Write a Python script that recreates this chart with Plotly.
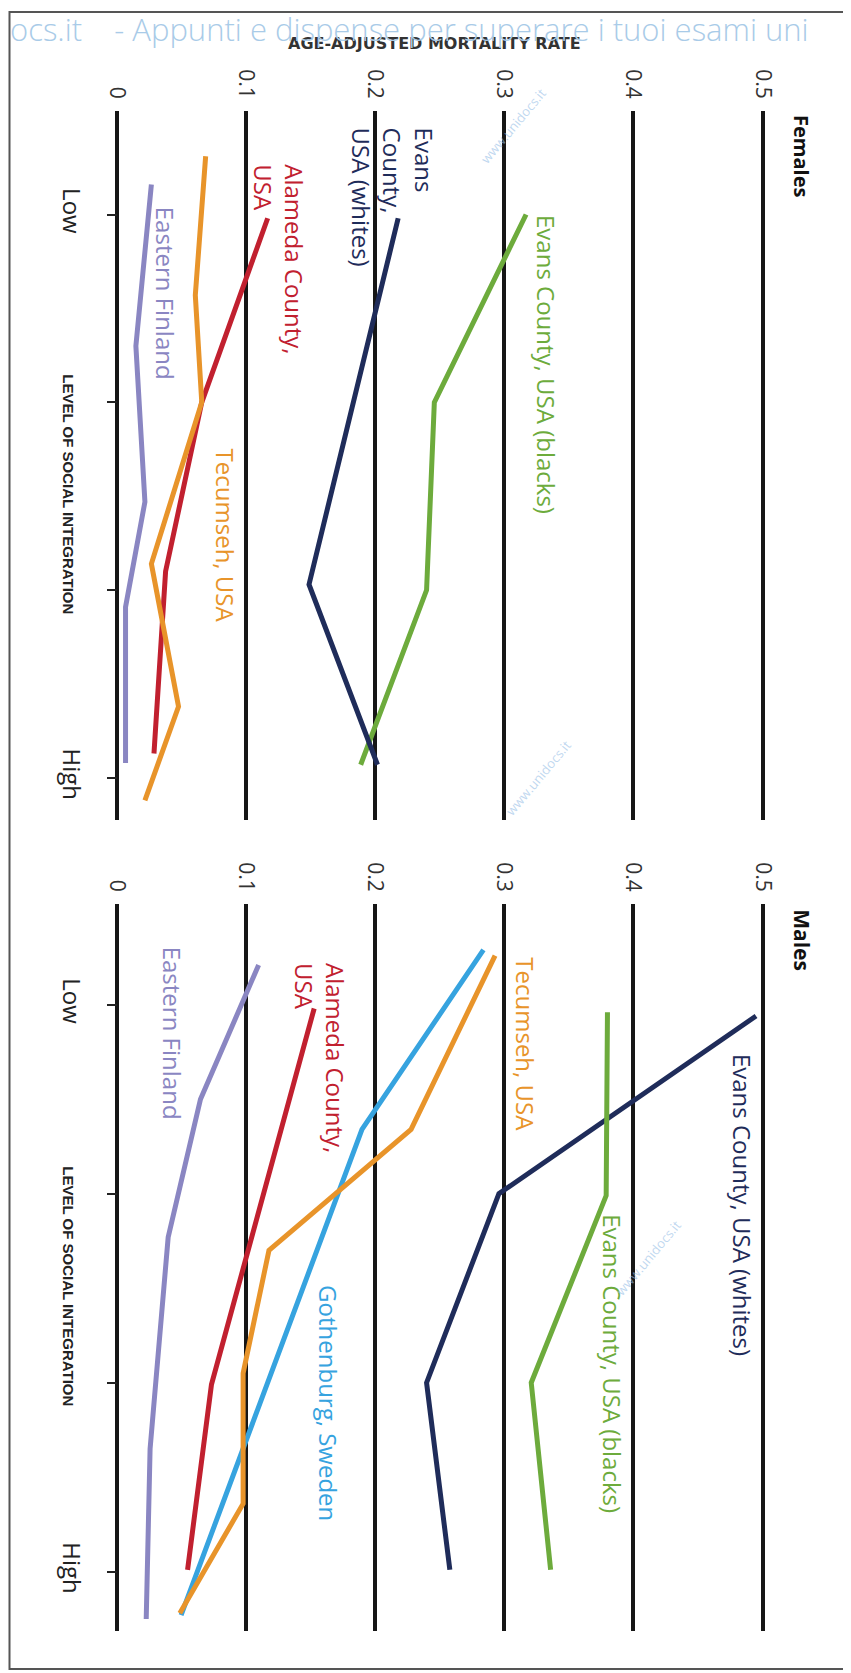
import plotly.graph_objects as go

W, H = 851, 1673

# ---------------- data ----------------
rate_ticks = [0, 0.1, 0.2, 0.3, 0.4, 0.5]
rate_labels = ["0", "0.1", "0.2", "0.3", "0.4", "0.5"]
level_ticks = [1, 2, 3, 4]
level_labels = ["Low", "", "", "High"]

# Females (level of social integration -> age-adjusted mortality rate)
f_evans_blacks_lvl = [1.0, 2.0, 3.0, 3.93]
f_evans_blacks_val = [0.317, 0.246, 0.240, 0.189]
f_evans_whites_lvl = [1.02, 2.0, 2.97, 3.93]
f_evans_whites_val = [0.218, 0.183, 0.149, 0.202]
f_alameda_lvl = [1.02, 2.0, 2.9, 3.87]
f_alameda_val = [0.117, 0.066, 0.038, 0.029]
f_tecumseh_lvl = [0.69, 1.43, 2.0, 2.86, 3.62, 4.12]
f_tecumseh_val = [0.069, 0.061, 0.066, 0.027, 0.048, 0.022]
f_finland_lvl = [0.84, 1.70, 2.53, 3.09, 3.92]
f_finland_val = [0.027, 0.015, 0.022, 0.007, 0.007]

# Males
m_evans_whites_lvl = [1.06, 2.0, 3.0, 3.99]
m_evans_whites_val = [0.495, 0.296, 0.240, 0.258]
m_evans_blacks_lvl = [1.04, 2.01, 3.0, 3.99]
m_evans_blacks_val = [0.380, 0.379, 0.321, 0.336]
m_tecumseh_lvl = [0.74, 1.66, 2.30, 2.95, 3.64, 4.22]
m_tecumseh_val = [0.293, 0.228, 0.118, 0.098, 0.098, 0.049]
m_gothenburg_lvl = [0.71, 1.66, 3.0, 4.23]
m_gothenburg_val = [0.284, 0.190, 0.117, 0.050]
m_alameda_lvl = [1.02, 2.0, 3.01, 3.99]
m_alameda_val = [0.153, 0.114, 0.0735, 0.055]
m_finland_lvl = [0.79, 1.50, 2.23, 3.35, 4.25]
m_finland_val = [0.110, 0.065, 0.040, 0.026, 0.023]

C_GREEN = "#6dab3c"
C_NAVY = "#1f2c5a"
C_RED = "#c1202f"
C_ORANGE = "#e8942a"
C_PURPLE = "#8a86c2"
C_BLUE = "#36a3df"

LBL_FONT = "Open Sans"

fig = go.Figure()

def add(x, y, color, xa, ya):
    fig.add_trace(go.Scatter(x=x, y=y, mode="lines", xaxis=xa, yaxis=ya,
                             line=dict(color=color, width=5), showlegend=False,
                             hoverinfo="skip"))

add(f_evans_blacks_val, f_evans_blacks_lvl, C_GREEN, "x", "y")
add(f_evans_whites_val, f_evans_whites_lvl, C_NAVY, "x", "y")
add(f_alameda_val, f_alameda_lvl, C_RED, "x", "y")
add(f_tecumseh_val, f_tecumseh_lvl, C_ORANGE, "x", "y")
add(f_finland_val, f_finland_lvl, C_PURPLE, "x", "y")

add(m_evans_whites_val, m_evans_whites_lvl, C_NAVY, "x2", "y2")
add(m_evans_blacks_val, m_evans_blacks_lvl, C_GREEN, "x2", "y2")
add(m_gothenburg_val, m_gothenburg_lvl, C_BLUE, "x2", "y2")
add(m_tecumseh_val, m_tecumseh_lvl, C_ORANGE, "x2", "y2")
add(m_alameda_val, m_alameda_lvl, C_RED, "x2", "y2")
add(m_finland_val, m_finland_lvl, C_PURPLE, "x2", "y2")

x_range = [-108.5 / 1292, (W - 108.5) / 1292]
f_dom = [1 - 812 / H, 1 - 103 / H]
m_dom = [1 - 1623 / H, 1 - 896 / H]
f_range = [1 + (812 - 206.5) / 187.8, 1 + (103 - 206.5) / 187.8]
m_range = [1 + (1623 - 996.7) / 189, 1 + (896 - 996.7) / 189]
y_pos = 108.5 / W

xa_common = dict(domain=[0, 1], range=x_range, side="top", tickmode="array",
                 tickvals=rate_ticks, ticktext=rate_labels, tickangle=90,
                 showgrid=True, gridcolor="#161616", gridwidth=4,
                 zeroline=True, zerolinecolor="#161616", zerolinewidth=4,
                 showline=False, ticks="", ticklabelstandoff=8,
                 tickfont=dict(family=LBL_FONT, size=21, color="#333"))
ya_common = dict(anchor="free", position=y_pos, tickmode="array",
                 tickvals=level_ticks, ticktext=level_labels, tickangle=90,
                 ticks="outside", ticklen=10, tickwidth=2, tickcolor="#222",
                 showgrid=False, zeroline=False, showline=False,
                 ticklabelstandoff=15,
                 tickfont=dict(family=LBL_FONT, size=24, color="#222"))

fig.update_layout(
    width=W, height=H, margin=dict(l=0, r=0, t=0, b=0),
    paper_bgcolor="white", plot_bgcolor="rgba(0,0,0,0)",
    xaxis=dict(anchor="y", **xa_common),
    xaxis2=dict(anchor="y2", **xa_common),
    yaxis=dict(domain=f_dom, range=f_range, **ya_common),
    yaxis2=dict(domain=m_dom, range=m_range, **ya_common),
)

ann = []

def label(text, x, y, color, xa, ya, size=24, bold=False, align="left"):
    ann.append(dict(text=text, x=x, y=y, xref=xa, yref=ya, showarrow=False,
                    textangle=90, align=align, xanchor="center", yanchor="middle",
                    font=dict(family=LBL_FONT, size=size, color=color,
                              weight=700 if bold else 400)))

# Females labels
label("Females", 0.530, 0.69, "#111", "x", "y", size=20, bold=True)
label("Evans County, USA (blacks)", 0.333, 1.80, C_GREEN, "x", "y")
label("Evans<br>County,<br>USA (whites)", 0.214, 0.91, C_NAVY, "x", "y")
label("Alameda County,<br>USA", 0.126, 1.24, C_RED, "x", "y")
label("Eastern Finland", 0.038, 1.42, C_PURPLE, "x", "y")
label("Tecumseh, USA", 0.084, 2.71, C_ORANGE, "x", "y")

# Males labels
label("Males", 0.530, 0.66, "#111", "x2", "y2", size=21, bold=True)
label("Evans County, USA (whites)", 0.485, 2.06, C_NAVY, "x2", "y2")
label("Evans County, USA (blacks)", 0.384, 2.90, C_GREEN, "x2", "y2")
label("Tecumseh, USA", 0.317, 1.21, C_ORANGE, "x2", "y2")
label("Alameda County,<br>USA", 0.158, 1.28, C_RED, "x2", "y2")
label("Eastern Finland", 0.044, 1.15, C_PURPLE, "x2", "y2")
label("Gothenburg, Sweden", 0.164, 3.11, C_BLUE, "x2", "y2")

# level axis titles
for ya in ("y", "y2"):
    ann.append(dict(text="LEVEL OF SOCIAL INTEGRATION", x=61 / W, xref="paper",
                    xanchor="center", yanchor="middle",
                    y=2.49, yref=ya, showarrow=False, textangle=90,
                    font=dict(family="Liberation Sans", size=15, color="#222", weight=700)))

# top axis title
ann.append(dict(text="AGE-ADJUSTED MORTALITY RATE", x=426 / W, y=1 - 35 / H,
                xref="paper", yref="paper", showarrow=False, yanchor="middle",
                xanchor="center",
                font=dict(family="DejaVu Sans", size=16, color="#333", weight=700)))

# watermark
ann.append(dict(text="ocs.it\u00a0\u00a0\u00a0\u00a0- Appunti e dispense per superare i tuoi esami uni",
                x=0, y=1 - 21 / H, xref="paper", yref="paper", xanchor="left",
                yanchor="middle", showarrow=False,
                font=dict(family="Open Sans", size=31, color="#a9cbe8", weight=300)))
for (wx, wy) in [(505, 118), (530, 770), (640, 1250)]:
    ann.append(dict(text="www.unidocs.it", x=wx / W, y=1 - wy / H, xref="paper",
                    yref="paper", showarrow=False, textangle=-50,
                    xanchor="center", yanchor="middle",
                    font=dict(family="Open Sans", size=13, color="rgba(150,190,230,0.6)")))

fig.update_layout(annotations=ann)

# frame
fig.add_shape(type="rect", xref="paper", yref="paper",
              x0=1.5 / W, x1=842 / W, y0=1 - 1661 / H, y1=1 - 4 / H,
              line=dict(color="#555", width=2), layer="above")

fig.write_html("out.html")
